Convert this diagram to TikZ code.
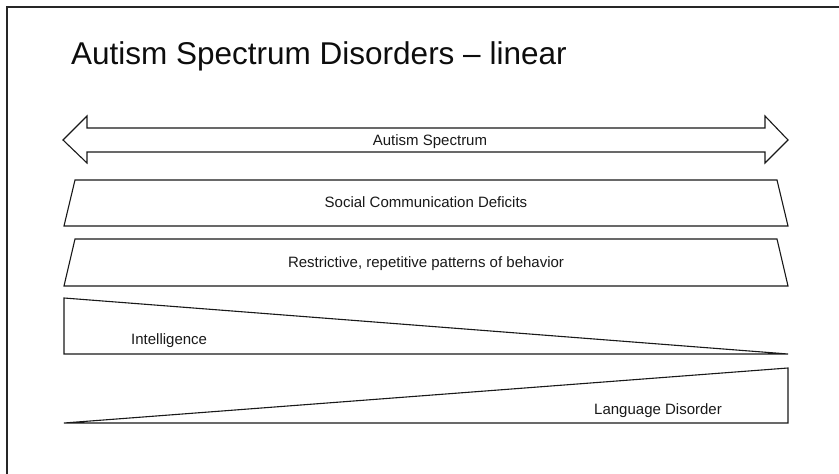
\documentclass[tikz,border=0pt]{standalone}
\usepackage{fontspec}
\setmainfont{Liberation Sans}
\begin{document}
\begin{tikzpicture}[x=1pt,y=1pt,
  outline/.style={draw=black!90, line width=1.1pt, line join=miter, fill=white},
  label/.style={font=\fontsize{15}{17}\selectfont, text=black!90, inner sep=0pt},
  heading/.style={font=\fontsize{31.5}{36}\selectfont, text=black!95, inner sep=0pt}]
\useasboundingbox (0,0) rectangle (839,474);
\fill[white] (0,0) rectangle (839,474);
% slide frame (left and top edges visible)
\draw[black!85, line width=1.6pt] (7,-2) -- (7,467) -- (841,467);

% title
\node[heading, anchor=base west] (title) at (71,409) {Autism Spectrum Disorders – linear};

% double-headed spectrum arrow
\draw[outline] (63,334) -- (87,358) -- (87,346) -- (765,346) -- (765,358)
  -- (788,334) -- (765,311) -- (765,322) -- (87,322) -- (87,311) -- cycle;
\node[label, anchor=base] (spectrum) at (430,328.5) {Autism Spectrum};

% social communication band
\draw[outline] (64,248) -- (75,294) -- (777,294) -- (788,248) -- cycle;
\node[label, anchor=base] (social) at (426,266) {Social Communication Deficits};

% restrictive behaviour band
\draw[outline] (64,188) -- (75,235) -- (777,235) -- (788,188) -- cycle;
\node[label, anchor=base] (rrb) at (426,206) {Restrictive, repetitive patterns of behavior};

% intelligence wedge (decreasing to the right)
\draw[outline] (64,176) -- (64,120) -- (788,120) -- cycle;
\node[label, anchor=base west] (iq) at (131,129) {Intelligence};

% language disorder wedge (increasing to the right)
\draw[outline] (64,51) -- (788,106) -- (788,51) -- cycle;
\node[label, anchor=base east] (lang) at (722,59) {Language Disorder};
\end{tikzpicture}
\end{document}
